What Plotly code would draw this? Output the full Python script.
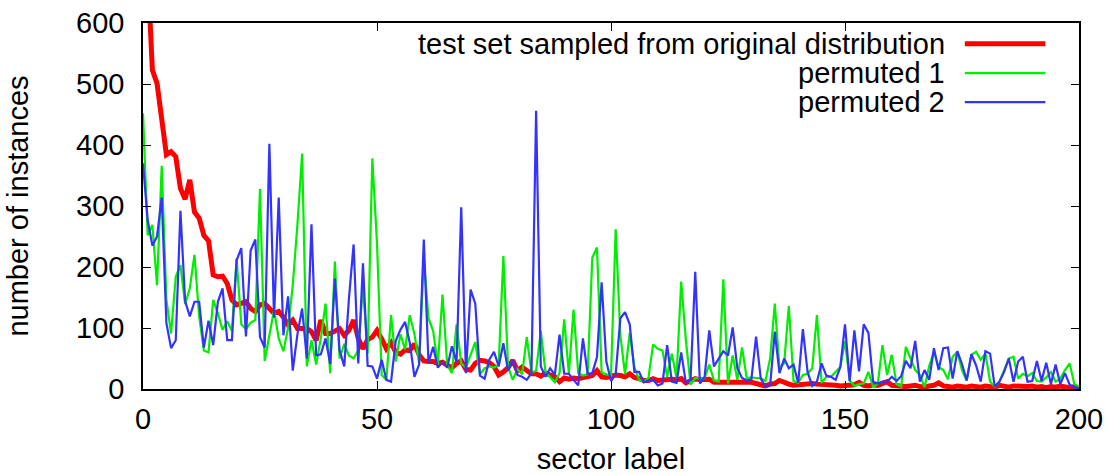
import plotly.graph_objects as go

x_vals = list(range(0, 201))

original = [850, 680, 523, 501, 436, 384, 389, 381, 329, 311, 343, 290, 280, 252, 243, 187, 184, 185, 173, 146,
            138, 140, 143, 132, 127, 138, 140, 132, 124, 127, 118, 105, 113, 99, 100, 99, 94, 80, 113, 91,
            91, 94, 99, 88, 96, 113, 83, 66, 81, 85, 96, 82, 66, 76, 60, 57, 64, 63, 74, 56,
            46, 45, 45, 42, 44, 39, 35, 42, 46, 32, 31, 42, 47, 46, 43, 37, 23, 28, 35, 47,
            30, 36, 30, 25, 25, 21, 26, 22, 20, 12, 18, 16, 18, 17, 18, 20, 22, 30, 20, 19,
            22, 23, 22, 20, 25, 19, 17, 14, 14, 17, 14, 15, 16, 16, 15, 17, 10, 13, 17, 15,
            15, 16, 11, 11, 11, 11, 10, 12, 10, 10, 11, 9, 7, 5, 8, 9, 14, 10, 8, 6,
            7, 8, 7, 9, 8, 8, 6, 7, 6, 5, 6, 5, 7, 11, 6, 5, 7, 6, 8, 12,
            6, 5, 6, 4, 5, 6, 4, 3, 5, 6, 10, 5, 4, 3, 5, 4, 3, 5, 4, 3,
            5, 4, 3, 6, 4, 3, 5, 4, 3, 4, 5, 3, 4, 2, 4, 3, 5, 3, 2, 4, 2]

permuted1 = [452, 252, 269, 170, 366, 146, 91, 184, 203, 139, 165, 220, 119, 63, 60, 146, 124, 97, 111, 95,
             214, 106, 98, 109, 113, 328, 46, 86, 130, 83, 62, 100, 170, 270, 386, 37, 80, 40, 83, 140,
             26, 209, 50, 74, 55, 50, 64, 170, 58, 378, 239, 23, 15, 121, 45, 90, 65, 121, 90, 42,
             215, 116, 95, 40, 155, 40, 26, 106, 42, 35, 55, 77, 24, 34, 37, 35, 40, 218, 37, 15,
             33, 24, 85, 27, 30, 95, 28, 20, 11, 26, 114, 25, 130, 26, 22, 24, 215, 232, 27, 24,
             22, 262, 88, 24, 92, 36, 15, 12, 18, 73, 66, 63, 20, 58, 18, 176, 80, 7, 18, 17,
             18, 40, 14, 12, 180, 9, 55, 15, 68, 18, 19, 18, 18, 13, 50, 140, 34, 42, 136, 13,
             10, 23, 25, 34, 121, 10, 20, 20, 28, 36, 78, 14, 5, 8, 9, 28, 4, 8, 72, 23,
             56, 8, 4, 69, 50, 31, 23, 3, 38, 61, 36, 31, 16, 53, 61, 31, 14, 56, 61, 48,
             58, 12, 4, 12, 31, 50, 53, 17, 25, 21, 26, 13, 12, 19, 28, 12, 17, 31, 42, 8, 4]

permuted2 = [370, 277, 235, 250, 314, 108, 67, 80, 292, 144, 119, 143, 143, 68, 112, 72, 143, 165, 80, 80,
             211, 231, 86, 227, 245, 85, 68, 402, 117, 314, 88, 152, 30, 90, 132, 50, 270, 55, 57, 83,
             41, 181, 64, 37, 148, 237, 42, 206, 38, 37, 17, 48, 15, 12, 79, 97, 110, 76, 20, 40,
             245, 43, 69, 35, 44, 35, 70, 44, 298, 26, 163, 140, 22, 17, 48, 61, 37, 75, 30, 48,
             23, 20, 15, 26, 456, 37, 20, 34, 23, 89, 25, 25, 15, 6, 83, 25, 26, 52, 175, 45,
             13, 24, 116, 126, 106, 28, 28, 11, 14, 15, 6, 9, 72, 12, 10, 60, 10, 15, 192, 9,
             20, 96, 37, 50, 62, 55, 101, 34, 18, 14, 16, 86, 17, 4, 6, 94, 26, 50, 34, 40,
             10, 98, 28, 5, 12, 42, 22, 20, 15, 36, 106, 13, 96, 29, 106, 92, 12, 9, 12, 12,
             20, 13, 21, 46, 34, 79, 12, 31, 15, 67, 31, 67, 68, 17, 62, 41, 14, 57, 39, 12,
             62, 58, 4, 12, 28, 50, 12, 45, 53, 12, 13, 46, 13, 43, 8, 40, 8, 26, 7, 3, 1]

series_names = ["test set sampled from original distribution", "permuted 1", "permuted 2"]
series_colors = ["#ff0000", "#00ee00", "#3333ff"]
series_widths = [5, 2.2, 2.2]
x_ticks = [0, 50, 100, 150, 200]
y_ticks = [0, 100, 200, 300, 400, 500, 600]

FONT = "Liberation Sans, Arial, sans-serif"
FS = 29

fig = go.Figure()
for name, ys, col, w in zip(series_names, [original, permuted1, permuted2], series_colors, series_widths):
    fig.add_trace(go.Scatter(x=x_vals, y=ys, mode="lines", name=name,
                             line=dict(color=col, width=w), showlegend=False))

axis_common = dict(showline=True, linecolor="black", linewidth=1.5, mirror="allticks",
                   ticks="inside", ticklen=8, tickwidth=1.2, tickcolor="black",
                   showgrid=False, zeroline=False, automargin=False,
                   tickfont=dict(family=FONT, size=FS, color="black"))

fig.update_xaxes(range=[0, 200], tickvals=x_ticks, ticklabelstandoff=3,
                 title=dict(text="sector label", font=dict(family=FONT, size=FS, color="black"), standoff=25),
                 **axis_common)
fig.update_yaxes(range=[0, 600], tickvals=y_ticks, ticklabelstandoff=11,
                 title=dict(text="number of instances", font=dict(family=FONT, size=FS, color="black"), standoff=39),
                 **axis_common)

# manual legend (gnuplot style: text right-aligned, sample line to the right)
leg_rows_y = [0.943, 0.863, 0.784]
for name, col, w, yy in zip(series_names, series_colors, series_widths, leg_rows_y):
    fig.add_annotation(xref="paper", yref="paper", x=0.859, y=yy, text=name, showarrow=False,
                       xanchor="right", yanchor="middle",
                       font=dict(family=FONT, size=FS, color="black"))
    fig.add_shape(type="line", xref="paper", yref="paper", x0=0.878, x1=0.964, y0=yy, y1=yy,
                  line=dict(color=col, width=w))

fig.update_layout(width=1111, height=475, margin=dict(l=143, r=32, t=23, b=86),
                  plot_bgcolor="white", paper_bgcolor="white", showlegend=False,
                  font=dict(family=FONT, size=FS, color="black"))

fig.write_html("out.html")
